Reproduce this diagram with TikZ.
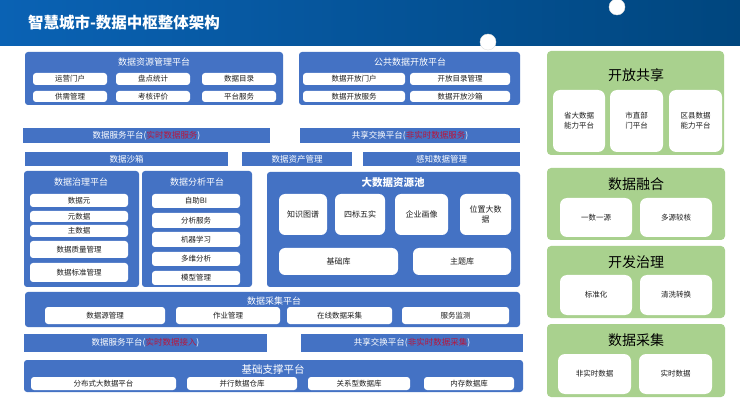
\documentclass[tikz,border=0pt]{standalone}
\usepackage{fontspec}
\setmainfont{Noto Sans CJK SC}
\usetikzlibrary{shadings}
\definecolor{bblue}{HTML}{4472C4}
\definecolor{ggreen}{HTML}{A9D18E}
\definecolor{hdl}{HTML}{0A62B4}
\definecolor{hdr}{HTML}{00467E}
\definecolor{redt}{HTML}{B8163C}
\definecolor{darkt}{HTML}{1E1E1E}
\newcommand\mybox[7]{%
  \node[#1, minimum width={(#5-#3)*1pt}, minimum height={(#6-#4)*1pt}] (#2) at ({(#3+#5)/2},{(#4+#6)/2}) {#7};}
\tikzset{
  base/.style={inner sep=0pt, outer sep=0pt, align=center},
  bluebox/.style={base, fill=bblue, rounded corners=3pt, text=white, font=\fontsize{8.5}{10}\selectfont},
  bluebar/.style={base, fill=bblue, text=white, font=\fontsize{8.5}{10}\selectfont},
  item/.style={base, fill=white, rounded corners=3pt, text=darkt, font=\fontsize{7.5}{9}\selectfont},
  pitem/.style={base, fill=white, rounded corners=6pt, text=darkt, font=\fontsize{8}{10}\selectfont},
  gpanel/.style={base, fill=ggreen, rounded corners=4pt},
  gitem/.style={base, fill=white, rounded corners=7pt, text=darkt, font=\fontsize{7.5}{10}\selectfont},
  ttl/.style={base, text=white, font=\fontsize{9}{10}\selectfont},
  gttl/.style={base, text=black, font=\fontsize{14}{16}\selectfont},
  dot/.style={circle, fill=white, draw=gray!25, line width=0.4pt, minimum size=16pt, inner sep=0pt},
}
\begin{document}
\begin{tikzpicture}[x=1pt,y=-1pt]
\useasboundingbox (0,0) rectangle (740,417);
\fill[white] (0,0) rectangle (740,417);
% header
\shade[left color=hdl, right color=hdr] (0,0) rectangle (740,46);
\node[base, anchor=west, text=white, font=\fontsize{15.5}{18}\selectfont\bfseries] (title) at (28,23) {智慧城市-数据中枢整体架构};
\node[dot] (dot1) at (617,7) {};
\node[dot] (dot2) at (488,42) {};

% top left container
\mybox{bluebox}{mgmt}{25}{52}{283}{105}{}
\node[ttl] (mgmtT) at (154,62) {数据资源管理平台};
\mybox{item}{m1}{33}{73}{107}{85}{运营门户}
\mybox{item}{m2}{116}{73}{190}{85}{盘点统计}
\mybox{item}{m3}{202}{73}{276}{85}{数据目录}
\mybox{item}{m4}{33}{91}{107}{102}{供需管理}
\mybox{item}{m5}{116}{91}{190}{102}{考核评价}
\mybox{item}{m6}{202}{91}{276}{102}{平台服务}

% top middle container
\mybox{bluebox}{open}{299}{52}{520}{105}{}
\node[ttl] (openT) at (410,62) {公共数据开放平台};
\mybox{item}{o1}{303}{73}{405}{85}{数据开放门户}
\mybox{item}{o2}{410}{73}{510}{85}{开放目录管理}
\mybox{item}{o3}{303}{91}{405}{102}{数据开放服务}
\mybox{item}{o4}{410}{91}{510}{102}{数据开放沙箱}

% service bars
\mybox{bluebar}{svc1}{23}{128}{270}{143}{数据服务平台(\textcolor{redt}{实时数据服务})}
\mybox{bluebar}{svc2}{300}{128}{520}{143}{共享交换平台(\textcolor{redt}{非实时数据服务})}

% row 3
\mybox{bluebar}{sandbox}{25}{152}{228}{166}{数据沙箱}
\mybox{bluebar}{asset}{242}{152}{352}{166}{数据资产管理}
\mybox{bluebar}{sense}{363}{152}{520}{166}{感知数据管理}

% governance
\mybox{bluebox}{gov}{24}{171}{139}{287}{}
\node[ttl] (govT) at (81,182) {数据治理平台};
\mybox{item}{g1}{30}{194}{128}{207}{数据元}
\mybox{item}{g2}{30}{211}{128}{222}{元数据}
\mybox{item}{g3}{30}{225}{128}{237}{主数据}
\mybox{item}{g4}{30}{241}{128}{258}{数据质量管理}
\mybox{item}{g5}{30}{263}{128}{282}{数据标准管理}

% analysis
\mybox{bluebox}{ana}{142}{171}{252}{287}{}
\node[ttl] (anaT) at (197,182) {数据分析平台};
\mybox{item}{a1}{152}{194}{240}{208}{自助BI}
\mybox{item}{a2}{152}{213}{240}{228}{分析服务}
\mybox{item}{a3}{152}{232}{240}{247}{机器学习}
\mybox{item}{a4}{152}{252}{240}{266}{多维分析}
\mybox{item}{a5}{152}{271}{240}{285}{模型管理}

% big data pool
\mybox{bluebox}{pool}{267}{172}{520}{287}{}
\node[ttl, font=\fontsize{10.5}{12}\selectfont\bfseries] (poolT) at (393,183) {大数据资源池};
\mybox{pitem}{p1}{279}{194}{327}{235}{知识图谱}
\mybox{pitem}{p2}{335}{194}{385}{235}{四标五实}
\mybox{pitem}{p3}{395}{194}{448}{235}{企业画像}
\mybox{pitem}{p4}{460}{194}{511}{235}{位置大数\\据}
\mybox{pitem}{p5}{279}{248}{398}{275}{基础库}
\mybox{pitem}{p6}{413}{248}{511}{275}{主题库}

% collection platform
\mybox{bluebox}{coll}{25}{292}{520}{327}{}
\node[ttl] (collT) at (274,301) {数据采集平台};
\mybox{item}{c1}{45}{307}{165}{324}{数据源管理}
\mybox{item}{c2}{176}{307}{280}{324}{作业管理}
\mybox{item}{c3}{287}{307}{392}{324}{在线数据采集}
\mybox{item}{c4}{402}{307}{509}{324}{服务监测}

% access bars
\mybox{bluebar}{acc1}{24}{334}{267}{352}{数据服务平台(\textcolor{redt}{实时数据接入})}
\mybox{bluebar}{acc2}{301}{334}{523}{352}{共享交换平台(\textcolor{redt}{非实时数据采集})}

% base support
\mybox{bluebox}{base}{24}{360}{523}{392}{}
\node[ttl, font=\fontsize{10.5}{12}\selectfont] (baseT) at (273,369) {基础支撑平台};
\mybox{item}{b1}{31}{377}{176}{390}{分布式大数据平台}
\mybox{item}{b2}{187}{377}{297}{390}{并行数据仓库}
\mybox{item}{b3}{308}{377}{410}{390}{关系型数据库}
\mybox{item}{b4}{424}{377}{514}{390}{内存数据库}

% green panels
\mybox{gpanel}{share}{547}{51}{724}{155}{}
\node[gttl] (shareT) at (636,75) {开放共享};
\mybox{gitem}{s1}{553}{90}{605}{152}{省大数据\\能力平台}
\mybox{gitem}{s2}{610}{90}{663}{152}{市直部\\门平台}
\mybox{gitem}{s3}{669}{90}{722}{152}{区县数据\\能力平台}

\mybox{gpanel}{fuse}{547}{168}{725}{240}{}
\node[gttl] (fuseT) at (636,184) {数据融合};
\mybox{gitem}{f1}{560}{198}{632}{237}{一数一源}
\mybox{gitem}{f2}{640}{198}{712}{237}{多源较核}

\mybox{gpanel}{dev}{547}{246}{725}{318}{}
\node[gttl] (devT) at (636,262) {开发治理};
\mybox{gitem}{d1}{560}{275}{632}{315}{标准化}
\mybox{gitem}{d2}{640}{275}{712}{315}{清洗转换}

\mybox{gpanel}{acq}{547}{324}{725}{397}{}
\node[gttl] (acqT) at (636,340) {数据采集};
\mybox{gitem}{q1}{558}{354}{631}{394}{非实时数据}
\mybox{gitem}{q2}{639}{354}{712}{394}{实时数据}
\end{tikzpicture}
\end{document}
